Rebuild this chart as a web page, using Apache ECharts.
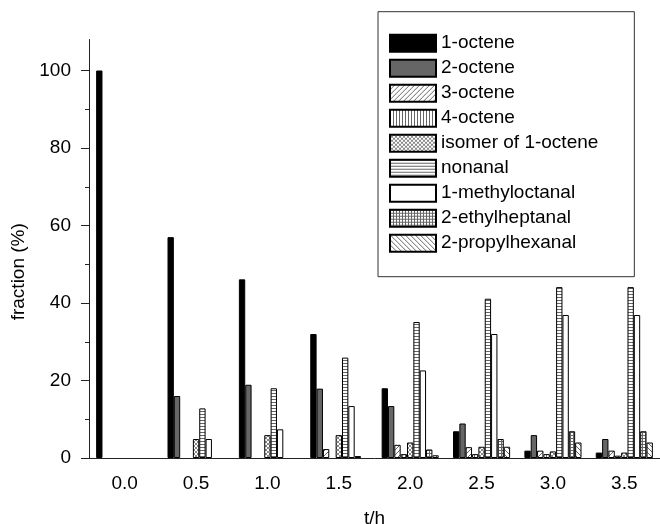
<!DOCTYPE html>
<html>
<head>
<meta charset="utf-8">
<script src="https://cdn.jsdelivr.net/npm/echarts@6/dist/echarts.min.js"></script>
<style>
  html, body { margin: 0; padding: 0; background: #fff; }
  #chart { width: 660px; height: 524px; }
</style>
</head>
<body>
<div id="chart"></div>
<script>
// categories (t/h)
const times = ['0.0', '0.5', '1.0', '1.5', '2.0', '2.5', '3.0', '3.5'];

// fraction (%) per product
const octene1 = [100, 57.0, 46.1, 32.0, 18.0, 6.9, 1.9, 1.4];
const octene2 = [0, 16.0, 18.9, 17.9, 13.4, 8.9, 5.9, 4.9];
const octene3 = [0, 0, 0, 2.3, 3.4, 2.8, 1.9, 1.9];
const octene4 = [0, 0, 0, 0, 1.0, 1.0, 1.0, 0.6];
const isomer = [0, 4.9, 5.9, 5.9, 4.0, 2.9, 1.7, 1.4];
const nonanal = [0, 12.8, 18.0, 25.9, 35.1, 41.1, 44.1, 44.1];
const methyloctanal = [0, 4.9, 7.4, 13.4, 22.6, 32.0, 36.9, 36.9];
const ethylheptanal = [0, 0, 0, 0.5, 2.2, 4.9, 6.9, 6.9];
const propylhexanal = [0, 0, 0, 0, 0.7, 2.9, 4.0, 4.0];

// y axis ticks
const yTicks = [0, 20, 40, 60, 80, 100];
const yMinorTicks = [10, 30, 50, 70, 90];

const FONT = "'Liberation Sans', Arial, sans-serif";

// small canvas patterns for the hatched bars
function pattern(size, draw) {
  const c = document.createElement('canvas');
  c.width = size;
  c.height = size;
  const ctx = c.getContext('2d');
  ctx.fillStyle = '#fff';
  ctx.fillRect(0, 0, size, size);
  ctx.strokeStyle = '#666';
  ctx.lineWidth = 1;
  draw(ctx, size);
  return { image: c, repeat: 'repeat' };
}

function line(ctx, x1, y1, x2, y2) {
  ctx.beginPath();
  ctx.moveTo(x1, y1);
  ctx.lineTo(x2, y2);
  ctx.stroke();
}

const fwdHatch = pattern(5, (ctx, s) => {
  line(ctx, -1, s + 1, s + 1, -1);
  line(ctx, -1, 1, 1, -1);
  line(ctx, s - 1, s + 1, s + 1, s - 1);
});
const backHatch = pattern(5, (ctx, s) => {
  line(ctx, -1, -1, s + 1, s + 1);
  line(ctx, s - 1, -1, s + 1, 1);
  line(ctx, -1, s - 1, 1, s + 1);
});
const vertLines = pattern(3, (ctx, s) => {
  line(ctx, 0.5, 0, 0.5, s);
});
const horizLines = pattern(3, (ctx, s) => {
  line(ctx, 0, 0.5, s, 0.5);
});
const gridLines = pattern(3, (ctx, s) => {
  line(ctx, 0, 0.5, s, 0.5);
  line(ctx, 0.5, 0, 0.5, s);
});
const crossDots = pattern(4, (ctx, s) => {
  ctx.strokeStyle = '#888';
  line(ctx, 0, 0, s, s);
  line(ctx, 0, s, s, 0);
});

const seriesDefs = [
  ['1-octene', octene1, '#000'],
  ['2-octene', octene2, '#666'],
  ['3-octene', octene3, fwdHatch],
  ['4-octene', octene4, vertLines],
  ['isomer of 1-octene', isomer, crossDots],
  ['nonanal', nonanal, horizLines],
  ['1-methyloctanal', methyloctanal, '#fff'],
  ['2-ethylheptanal', ethylheptanal, gridLines],
  ['2-propylhexanal', propylhexanal, backHatch],
];

const chart = echarts.init(document.getElementById('chart'));

chart.setOption({
  animation: false,
  backgroundColor: '#fff',
  textStyle: { fontFamily: FONT },
  grid: { left: 89, right: 0, top: 39.5, bottom: 66, outerBoundsMode: 'none', containLabel: false },
  legend: {
    orient: 'vertical',
    left: 378,
    top: 11.7,
    padding: [22, 36, 24, 11],
    borderColor: '#333',
    borderWidth: 1,
    itemWidth: 46,
    itemHeight: 17,
    itemGap: 6,
    icon: 'rect',
    textStyle: { fontFamily: FONT, fontSize: 19, color: '#000', lineHeight: 17 },
    data: seriesDefs.map(d => d[0]),
  },
  xAxis: [
    {
      type: 'category',
      data: times,
      position: 'bottom',
      name: 't/h',
      nameLocation: 'middle',
      nameGap: 51,
      nameTextStyle: { fontFamily: FONT, fontSize: 19, color: '#000' },
      axisLine: { lineStyle: { color: '#222', width: 1 } },
      axisTick: { length: 5, lineStyle: { color: '#222' } },
      axisLabel: { fontFamily: FONT, fontSize: 19, color: '#000', margin: 16 },
      splitLine: { show: false },
    },
    {
      type: 'category',
      data: times,
      position: 'bottom',
      axisLine: { show: false },
      axisTick: { alignWithLabel: true, length: 8, lineStyle: { color: '#222' } },
      axisLabel: { show: false },
      splitLine: { show: false },
    },
  ],
  yAxis: [
    {
      type: 'value',
      min: 0,
      max: 108,
      interval: 20,
      position: 'left',
      name: 'fraction (%)',
      nameLocation: 'middle',
      nameGap: 50,
      nameTextStyle: { fontFamily: FONT, fontSize: 19, color: '#000', padding: [0, 46, 0, 0] },
      axisLine: { show: true, lineStyle: { color: '#222', width: 1 } },
      axisTick: { show: true, length: 8, customValues: yTicks, lineStyle: { color: '#222' } },
      axisLabel: { fontFamily: FONT, fontSize: 19, color: '#000', margin: 18, customValues: yTicks },
      splitLine: { show: false },
    },
    {
      type: 'value',
      min: 0,
      max: 108,
      position: 'left',
      axisLine: { show: false },
      axisTick: { show: true, length: 4, customValues: yMinorTicks, lineStyle: { color: '#222' } },
      axisLabel: { show: false },
      splitLine: { show: false },
    },
  ],
  series: seriesDefs.map(([name, values, fill]) => ({
    name,
    type: 'bar',
    xAxisIndex: 0,
    yAxisIndex: 0,
    // zero fractions are left empty, as in the original plot
    data: values.map(v => (v === 0 ? null : v)),
    barGap: '0%',
    barCategoryGap: '20%',
    itemStyle: { color: fill, borderColor: '#000', borderWidth: 1 },
    emphasis: { disabled: true },
  })),
});
</script>
</body>
</html>
